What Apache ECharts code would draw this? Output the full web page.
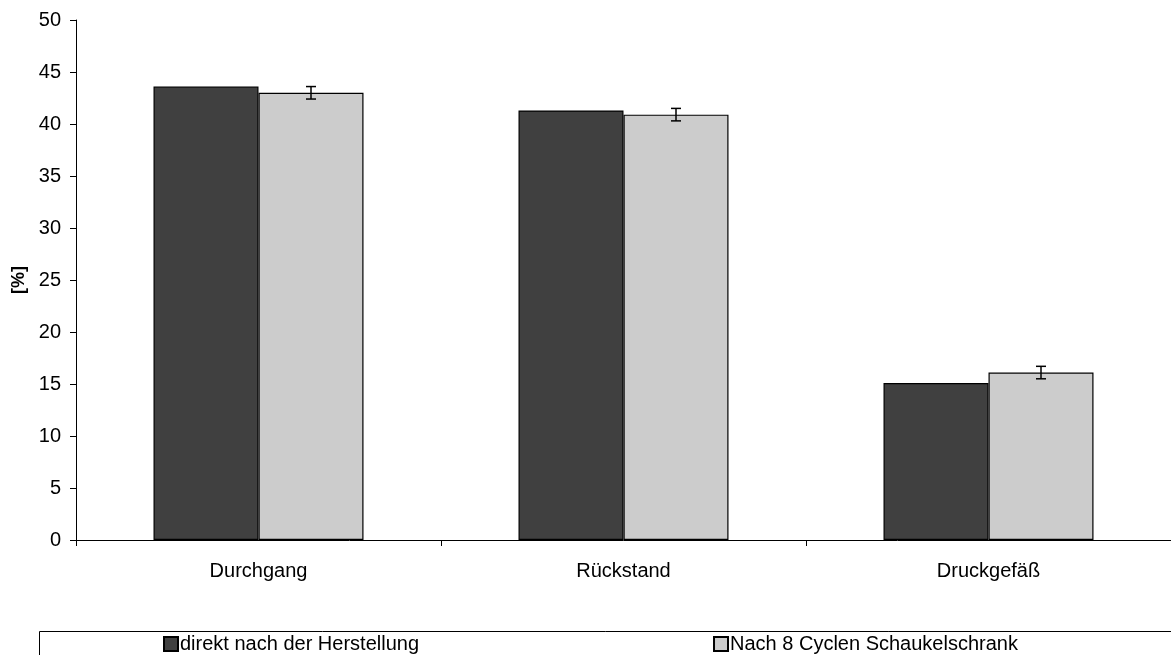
<!DOCTYPE html>
<html><head><meta charset="utf-8">
<script src="https://cdn.jsdelivr.net/npm/echarts@6/dist/echarts.min.js"></script>
<style>html,body{margin:0;padding:0;background:#fff}#c{width:1171px;height:655px}</style>
</head><body><div id="c"></div>
<script>
var categories = ['Durchgang', 'Rückstand', 'Druckgefäß'];
var seriesNames = ['direkt nach der Herstellung', 'Nach 8 Cyclen Schaukelschrank'];
var direkt = [43.6, 41.3, 15.1];
var nach8 = [43.0, 40.9, 16.1];
var nach8Err = [0.6, 0.6, 0.6];
var yTicks = {min: 0, max: 50, interval: 5};

var chart = echarts.init(document.getElementById('c'));
var errData = categories.map(function (c, i) { return [i, nach8[i] - nach8Err[i], nach8[i] + nach8Err[i]]; });
var font = 'Liberation Sans, Arial, sans-serif';
chart.setOption({
  animation: false,
  textStyle: {fontFamily: font},
  grid: {left: 76, top: 20, width: 1097, height: 520},
  xAxis: {
    type: 'category', data: categories,
    axisLine: {lineStyle: {color: '#000', width: 1}},
    axisTick: {show: true, length: 6, lineStyle: {color: '#000'}},
    axisLabel: {color: '#000', fontSize: 20, margin: 21, fontFamily: font}
  },
  yAxis: {
    type: 'value', min: yTicks.min, max: yTicks.max, interval: yTicks.interval,
    name: '[%]', nameLocation: 'middle', nameGap: 47, nameRotate: 90,
    nameTextStyle: {color: '#000', fontSize: 18, fontWeight: 'bold', fontFamily: font},
    axisLine: {show: true, lineStyle: {color: '#000', width: 1}},
    axisTick: {show: true, length: 6, lineStyle: {color: '#000'}},
    axisLabel: {color: '#000', fontSize: 20, margin: 15, fontFamily: font},
    splitLine: {show: false}
  },
  legend: {
    left: 163, top: 634, padding: 0, itemWidth: 14, itemHeight: 14, itemGap: 294,
    icon: 'rect',
    textStyle: {color: '#000', fontSize: 20, padding: [0, 0, 0, -3], fontFamily: font},
    data: seriesNames
  },
  graphic: [{
    type: 'rect', left: 37, top: 629, z: 0,
    shape: {width: 1150, height: 40},
    style: {fill: 'none', stroke: '#000', lineWidth: 1}
  }],
  series: [
    {name: seriesNames[0], type: 'bar', data: direkt, barWidth: 105, barGap: '0%',
     itemStyle: {color: '#404040', borderColor: '#000', borderWidth: 1.2}},
    {name: seriesNames[1], type: 'bar', data: nach8, barWidth: 105,
     itemStyle: {color: '#cccccc', borderColor: '#000', borderWidth: 1.2}},
    {type: 'custom', z: 10, silent: true, data: errData,
     renderItem: function (params, api) {
       var x = api.value(0);
       var lo = api.coord([x, api.value(1)]);
       var hi = api.coord([x, api.value(2)]);
       var cx = lo[0] + 52.5;
       var w = 5;
       var st = {stroke: '#000', lineWidth: 1.5};
       return {type: 'group', children: [
         {type: 'line', shape: {x1: cx, y1: hi[1], x2: cx, y2: lo[1]}, style: st},
         {type: 'line', shape: {x1: cx - w, y1: hi[1], x2: cx + w, y2: hi[1]}, style: st},
         {type: 'line', shape: {x1: cx - w, y1: lo[1], x2: cx + w, y2: lo[1]}, style: st}
       ]};
     }}
  ]
});
</script></body></html>
